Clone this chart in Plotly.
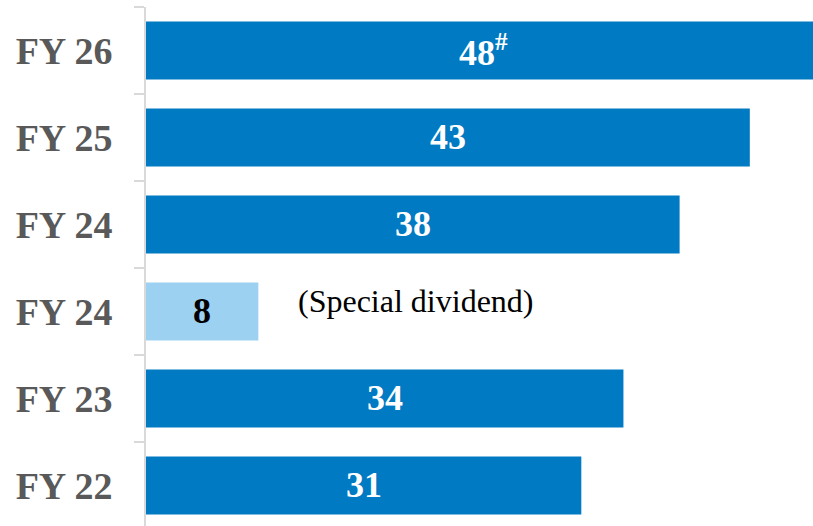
import plotly.graph_objects as go

categories = ["FY 22", "FY 23", "FY 24", "FY 24", "FY 25", "FY 26"]
values = [31, 34, 8, 38, 43, 48]
value_labels = ["31", "34", "8", "38", "43", "48<sup>#</sup>"]
bar_colors = ["#007AC2", "#007AC2", "#9DD1F1", "#007AC2", "#007AC2", "#007AC2"]
label_colors = ["white", "white", "black", "white", "white", "white"]
note_text = "(Special dividend)"
note_index = 2
note_x = 19.2

ypos = list(range(len(categories)))
SERIF = "Liberation Serif, Times New Roman, serif"

fig = go.Figure()
fig.add_trace(go.Bar(
    x=values, y=ypos, orientation="h",
    marker=dict(color=bar_colors, line=dict(width=0)),
    width=0.667,
    hoverinfo="skip",
))

for i, (v, lab, col) in enumerate(zip(values, value_labels, label_colors)):
    fig.add_annotation(
        x=v / 2, y=i, xref="x", yref="y", text=lab, showarrow=False,
        font=dict(family=SERIF, size=36, color=col, weight="bold"),
        xanchor="center", yanchor="middle",
    )

fig.add_annotation(
    x=note_x, y=note_index + 0.12, xref="x", yref="y", text=note_text, showarrow=False,
    font=dict(family=SERIF, size=32, color="black"),
    xanchor="center", yanchor="middle",
)

fig.update_layout(
    width=813, height=526,
    margin=dict(l=146, r=0, t=7, b=0, autoexpand=False),
    plot_bgcolor="white", paper_bgcolor="white",
    showlegend=False,
    bargap=0.333,
)
fig.update_xaxes(range=[0, 47.5], visible=False, showgrid=False, zeroline=False, automargin=False)
fig.update_yaxes(
    range=[-0.466, 5.5], automargin=False,
    tickmode="array", tickvals=ypos, ticktext=categories,
    ticks="", showgrid=False, zeroline=False,
    showline=True, linecolor="#d9d9d9", linewidth=2,
    tickfont=dict(family=SERIF, size=38, color="#595959", weight="bold"),
    ticklabelstandoff=24,
    minor=dict(tickmode="array", tickvals=[i - 0.5 for i in range(len(categories) + 1)],
               ticks="outside", ticklen=10, tickcolor="#d9d9d9", tickwidth=2, showgrid=False),
)

fig.write_html(
    "out.html",
    config={"displayModeBar": False, "staticPlot": True},
    post_script="document.body.style.margin='0';document.body.style.overflow='hidden';",
)
